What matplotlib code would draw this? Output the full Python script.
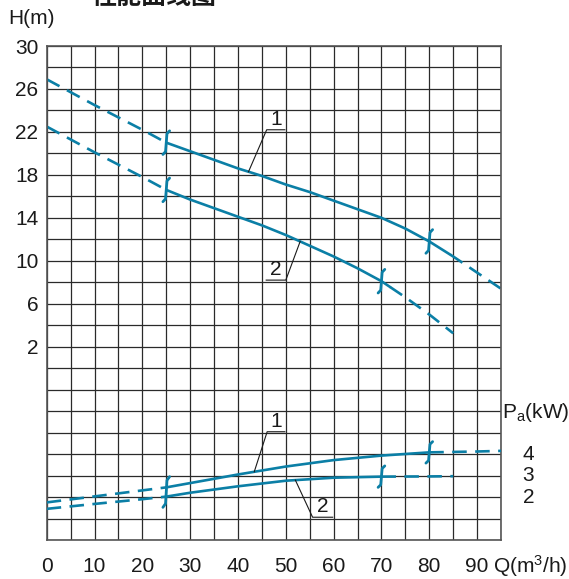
import matplotlib
matplotlib.use("Agg")
import matplotlib.pyplot as plt
import numpy as np

plt.rcParams['font.family'] = ['Liberation Sans', 'Noto Sans CJK SC', 'DejaVu Sans']
plt.rcParams['mathtext.default'] = 'regular'

# ---------------- data ----------------
title = "性能曲线图"
q_ticks = [0, 10, 20, 30, 40, 50, 60, 70, 80, 90]
h_ticks = [2, 6, 10, 14, 18, 22, 26, 30]
p_labels = [4, 3, 2]

q_h1 = [0, 10, 20, 25, 30, 35, 40, 45, 50, 55, 60, 65, 70, 75, 80, 85, 90, 95]
h1 = [26.9, 24.5, 22.2, 21.0, 20.2, 19.4, 18.6, 17.9, 17.1, 16.4, 15.6, 14.8, 14.0, 13.0, 11.8, 10.4, 8.9, 7.4]
h1_solid = (25, 84.4)

q_h2 = [0, 10, 20, 25, 30, 35, 40, 45, 50, 55, 60, 65, 70, 75, 80, 85]
h2 = [22.5, 20.1, 17.8, 16.6, 15.7, 14.9, 14.1, 13.3, 12.4, 11.4, 10.4, 9.3, 8.1, 6.6, 5.0, 3.25]
h2_solid = (25, 71.8)

q_p1 = [0, 10, 20, 25, 30, 40, 50, 60, 70, 80, 90, 95]
p1 = [1.75, 2.03, 2.31, 2.45, 2.65, 3.05, 3.42, 3.72, 3.93, 4.08, 4.12, 4.15]
p1_solid = (25, 80)

q_p2 = [0, 10, 20, 25, 30, 40, 50, 60, 70, 80, 85]
p2 = [1.45, 1.68, 1.9, 2.02, 2.2, 2.5, 2.76, 2.9, 2.95, 2.96, 2.97]
p2_solid = (25, 70)

h1_marks = [25, 80]
h2_marks = [25, 70]
p1_marks = [80]
p2_marks = [70]
p_both_marks = [25]

COLOR = '#0b7fa6'
LW = 1.9
DASH = (5.5, 3.2)
FS = 15
TC = '#1a1a1a'

fig = plt.figure(figsize=(5.69, 5.79), dpi=100)
ax = fig.add_axes([46.7/569, 1-540/579, (501-46.7)/569, (540-46)/579])
ax.set_xlim(0, 95)
ax.set_ylim(-16, 30)
ax2 = ax.twinx()
ax2.set_ylim(0, 23)

# grid
ax.set_xticks(np.arange(0, 96, 5))
ax.set_xticklabels([str(v) if v in q_ticks else '' for v in np.arange(0, 96, 5)], fontsize=FS)
ax.set_yticks(np.arange(-16, 31, 2))
ax.set_yticklabels([str(v) if v in h_ticks else '' for v in np.arange(-16, 31, 2)], fontsize=FS)
ax.tick_params(axis='both', length=0, colors=TC)
ax.tick_params(axis='x', pad=12)
ax.tick_params(axis='y', pad=6)
ax.grid(True, color='#2a2a2a', lw=0.9)
ax.set_axisbelow(True)
for s in ax.spines.values():
    s.set_color('#555555'); s.set_linewidth(1.2)
ax2.set_yticks([])
for s in ax2.spines.values():
    s.set_visible(False)


def draw_curve(a, qs, vs, solid):
    qs = np.asarray(qs, float); vs = np.asarray(vs, float)
    lo, hi = solid
    def seg(q0, q1):
        m = (qs > q0) & (qs < q1)
        xx = np.concatenate([[q0], qs[m], [q1]])
        yy = np.interp(xx, qs, vs)
        return xx, yy
    x, y = seg(qs[0], lo)
    a.plot(x, y, color=COLOR, lw=LW, dashes=DASH, dash_capstyle='butt')
    x, y = seg(lo, hi)
    a.plot(x, y, color=COLOR, lw=LW, solid_capstyle='round')
    if hi < qs[-1]:
        x, y = seg(hi, qs[-1])
        a.plot(x, y, color=COLOR, lw=LW, dashes=DASH, dash_capstyle='butt')


def draw_mark(a, q, ylo, yhi):
    hs = (yhi - ylo) * 0.12
    a.plot([q + 0.7, q + 0.15, q - 0.15, q - 0.7],
           [yhi, yhi - hs, ylo + hs, ylo], color=COLOR, lw=2.0,
           solid_capstyle='round', solid_joinstyle='round')


draw_curve(ax, q_h1, h1, h1_solid)
draw_curve(ax, q_h2, h2, h2_solid)
draw_curve(ax2, q_p1, p1, p1_solid)
draw_curve(ax2, q_p2, p2, p2_solid)

for q in h1_marks:
    v = np.interp(q, q_h1, h1); draw_mark(ax, q, v - 1.1, v + 1.1)
for q in h2_marks:
    v = np.interp(q, q_h2, h2); draw_mark(ax, q, v - 1.1, v + 1.1)
for q in p1_marks:
    v = np.interp(q, q_p1, p1); draw_mark(ax2, q, v - 0.5, v + 0.5)
for q in p2_marks:
    v = np.interp(q, q_p2, p2); draw_mark(ax2, q, v - 0.5, v + 0.5)
for q in p_both_marks:
    vt = np.interp(q, q_p1, p1); vb = np.interp(q, q_p2, p2)
    draw_mark(ax2, q, vb - 0.5, vt + 0.5)

# leaders
LC = '#1a1a1a'
def leader(a, qa, va, qc, vc, qe, label, dy):
    a.plot([qa, qc, qe], [va, vc, vc], color=LC, lw=0.8)
    a.text((qc + qe) / 2, vc + dy, label, ha='center', va='bottom', fontsize=FS, color=TC)

leader(ax, 42.2, float(np.interp(42.2, q_h1, h1)), 46.0, 22.2, 49.8, '1', 0.1)
leader(ax, 53.0, float(np.interp(53.0, q_h2, h2)), 50.0, 8.2, 45.9, '2', 0.1)
leader(ax2, 43.4, float(np.interp(43.4, q_p1, p1)), 46.1, 5.04, 49.8, '1', 0.05)
leader(ax2, 52.0, float(np.interp(52.0, q_p2, p2)), 55.6, 1.06, 59.8, '2', 0.05)

# text labels
fig.text(8/569, 1-18/579, 'H(m)', fontsize=FS, ha='left', va='center', color=TC)
fig.text(92/569, 1-4/579, title, fontsize=18, ha='left', va='baseline', fontweight='bold',
         family=['Noto Sans CJK SC', 'DejaVu Sans'], color=TC)
fig.text(493/569, 1-566/579, 'Q(m$^3$/h)', fontsize=FS, ha='left', va='center', color=TC)
fig.text(502/569, 1-413/579, 'P$_a$(kW)', fontsize=FS, ha='left', va='center', color=TC)
for p in p_labels:
    ax2.text(1.06, p, str(p), transform=ax2.get_yaxis_transform(), fontsize=FS,
             ha='center', va='center', color=TC)

fig.savefig('out.png', dpi=100)
